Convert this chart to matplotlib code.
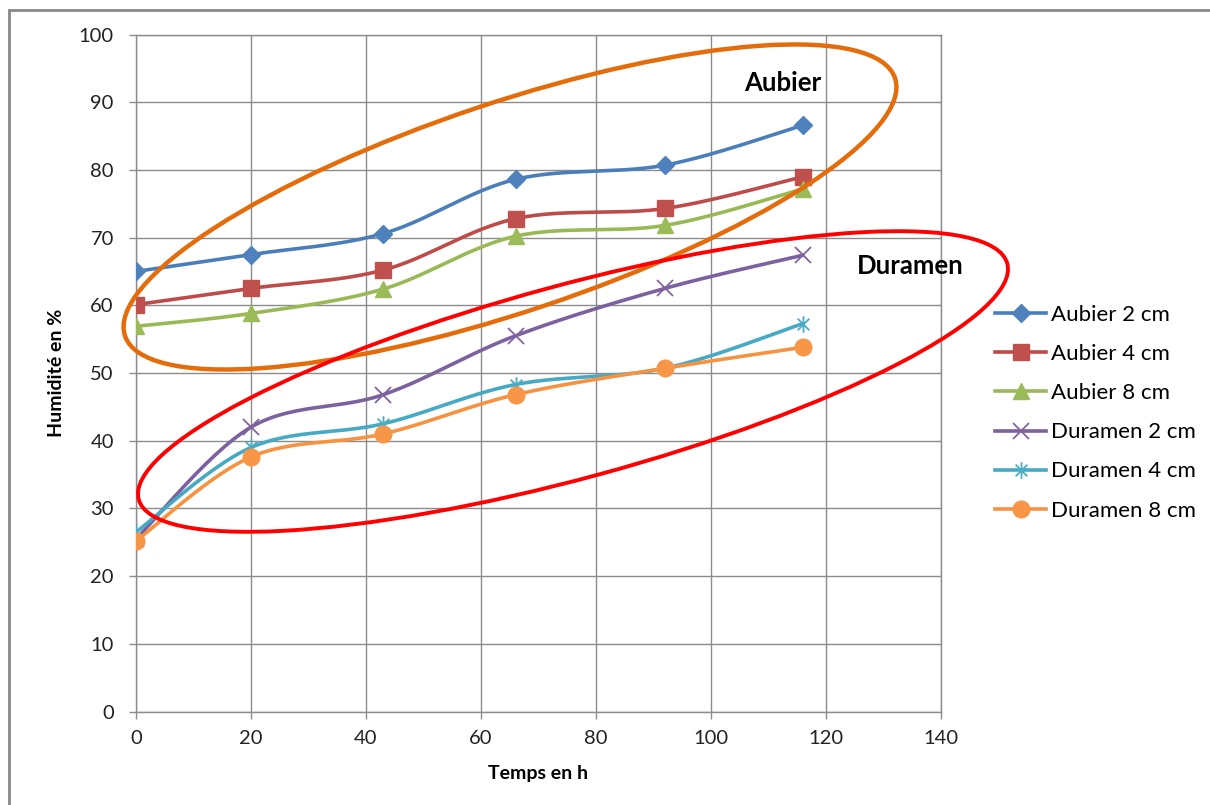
import matplotlib
matplotlib.use("Agg")
import matplotlib.pyplot as plt
import numpy as np
from matplotlib.patches import Ellipse, Rectangle
from matplotlib.path import Path
from matplotlib.transforms import IdentityTransform

plt.rcParams['font.family'] = ['Lato', 'DejaVu Sans']

# data
temps = [0, 20, 43, 66, 92, 116]
aubier_2 = [65.0, 67.5, 70.6, 78.6, 80.7, 86.6]
aubier_4 = [60.1, 62.5, 65.2, 72.8, 74.3, 79.0]
aubier_8 = [56.9, 58.8, 62.4, 70.2, 71.8, 77.2]
duramen_2 = [25.5, 42.0, 46.8, 55.5, 62.5, 67.4]
duramen_4 = [26.5, 39.0, 42.5, 48.3, 50.7, 57.3]
duramen_8 = [25.2, 37.6, 41.0, 46.8, 50.7, 53.8]
labels = ["Aubier 2 cm", "Aubier 4 cm", "Aubier 8 cm",
          "Duramen 2 cm", "Duramen 4 cm", "Duramen 8 cm"]

# excel style asterisk: vertical bar + x
star = Path([(0, -1), (0, 1), (-0.7, -0.7), (0.7, 0.7), (-0.7, 0.7), (0.7, -0.7)],
            [Path.MOVETO, Path.LINETO, Path.MOVETO, Path.LINETO, Path.MOVETO, Path.LINETO])

styles = [
    dict(color='#4A7EBB', marker='D', ms=9.5, mfc='#4F81BD', mec='#4F81BD'),
    dict(color='#BE4B48', marker='s', ms=11, mfc='#C0504D', mec='#C0504D'),
    dict(color='#98B954', marker='^', ms=12, mfc='#9BBB59', mec='#9BBB59'),
    dict(color='#7D60A0', marker='x', ms=11, mfc='none', mec='#8064A2', mew=1.3),
    dict(color='#46AAC5', marker=star, ms=12, mfc='none', mec='#4BACC6', mew=1.3),
    dict(color='#F69240', marker='o', ms=12, mfc='#F79646', mec='#F79646'),
]


def smooth(x, y, n=30):
    # excel-like smoothed line (bezier through the points)
    pts = np.column_stack([x, y]).astype(float)
    xs, ys = [], []
    t = np.linspace(0, 1, n)[:, None]
    for i in range(len(pts) - 1):
        p0 = pts[max(i - 1, 0)]
        p1 = pts[i]
        p2 = pts[i + 1]
        p3 = pts[min(i + 2, len(pts) - 1)]
        c1 = p1 + (p2 - p0) / 6
        c2 = p2 - (p3 - p1) / 6
        b = ((1 - t) ** 3) * p1 + 3 * ((1 - t) ** 2) * t * c1 + 3 * (1 - t) * t ** 2 * c2 + t ** 3 * p2
        xs.extend(b[:, 0])
        ys.extend(b[:, 1])
    return xs, ys


W, H = 1210, 805
fig = plt.figure(figsize=(W / 100, H / 100), dpi=100)
ax = fig.add_axes([136 / W, 1 - 711.5 / H, 805 / W, 677 / H])

series = [aubier_2, aubier_4, aubier_8, duramen_2, duramen_4, duramen_8]
for vals, lab, st in zip(series, labels, styles):
    sx, sy = smooth(temps, vals)
    ax.plot(sx, sy, color=st['color'], lw=2.6, solid_capstyle='round', zorder=3)
    ax.plot(temps, vals, ls='none', marker=st['marker'], ms=st['ms'],
            mfc=st['mfc'], mec=st['mec'], mew=st.get('mew', 1), zorder=4)
    ax.plot([], [], color=st['color'], lw=2.6, marker=st['marker'], ms=st['ms'],
            mfc=st['mfc'], mec=st['mec'], mew=st.get('mew', 1), label=lab)

ax.set_xlim(0, 140)
ax.set_ylim(0, 100)
ax.set_xticks(np.arange(0, 141, 20))
ax.set_yticks(np.arange(0, 101, 10))
ax.grid(True, color='#8C8C8C', lw=1)
ax.set_axisbelow(True)
for sp in ax.spines.values():
    sp.set_color('#8C8C8C')
    sp.set_linewidth(1)
ax.tick_params(axis='both', colors='#8C8C8C', labelcolor='#222222', labelsize=14.5,
               length=5, width=1)
ax.tick_params(axis='y', pad=11)
ax.tick_params(axis='x', pad=8)

ax.set_xlabel("Temps en h", fontsize=14, fontweight='bold')
ax.set_ylabel("Humidité en %", fontsize=14, fontweight='bold')
ax.xaxis.set_label_coords(0.5, (711.5 - 773) / 677)
ax.xaxis.label.set_va('center')
ax.yaxis.set_label_coords((57 - 136) / 805, 0.5)
ax.yaxis.label.set_va('center')

ax.text(112.5, 92.8, "Aubier", fontsize=18.5, fontweight='bold', ha='center', va='center')
ax.text(134.6, 65.8, "Duramen", fontsize=18.5, fontweight='bold', ha='center', va='center')

# hand drawn ellipses around the groups (pixel coords, y from bottom)
fig.patches.append(Ellipse((510, H - 207), 812, 209, angle=18.5, fill=False,
                           edgecolor='#E46C0A', lw=3.2, transform=IdentityTransform(),
                           figure=fig, zorder=10))
fig.patches.append(Ellipse((573, H - 381.5), 900, 193, angle=15.2, fill=False,
                           edgecolor='#FF0000', lw=2.8, transform=IdentityTransform(),
                           figure=fig, zorder=10))

# outer chart border
fig.patches.append(Rectangle((9 / W, -0.1), 1.2, 1.1 - 10 / H, fill=False,
                             edgecolor='#888888', lw=2, transform=fig.transFigure,
                             figure=fig))

fig.legend(loc='upper left', bbox_to_anchor=(995 / W, 1 - 305 / H), frameon=False,
           fontsize=16, handlelength=2.3, handletextpad=0.2, labelspacing=0.86,
           borderaxespad=0, borderpad=0)

fig.savefig("out.png", dpi=100)
